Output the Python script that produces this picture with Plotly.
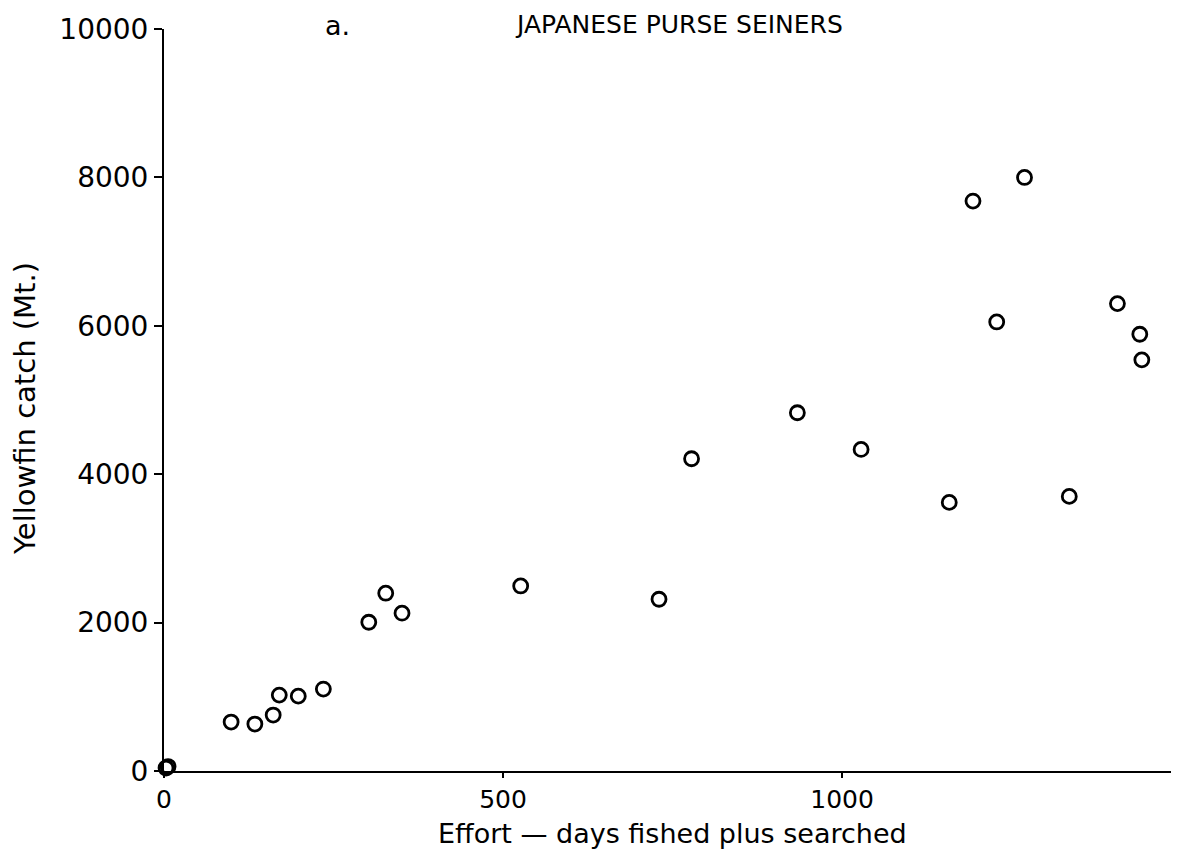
import plotly.graph_objects as go

effort = [3, 6, 99, 134, 161, 170, 198, 235, 302, 327, 351, 526, 730, 778,
          934, 1028, 1158, 1193, 1228, 1269, 1335, 1406, 1439, 1442]
catch = [40, 60, 660, 633, 754, 1023, 1009, 1104, 2005, 2396, 2127, 2494, 2315, 4208,
         4828, 4334, 3620, 7681, 6052, 7999, 3701, 6299, 5886, 5541]

x_ticks = [0, 500, 1000]
y_ticks = [0, 2000, 4000, 6000, 8000, 10000]

FONT = "DejaVu Sans"

# plot area: figure px x 156..1163, y 21..763 (page offset 8px by body margin)
fig = go.Figure()
fig.add_trace(go.Scatter(
    x=effort, y=catch, mode="markers",
    marker=dict(symbol="circle-open", size=14, color="black", line=dict(width=2.8)),
    cliponaxis=False, showlegend=False,
))

fig.update_layout(
    width=1163, height=844,
    margin=dict(l=156, r=0, t=21, b=81),
    paper_bgcolor="white", plot_bgcolor="white",
    font=dict(family=FONT, color="black", size=28),
    xaxis=dict(range=[0, 1485], tickvals=x_ticks, ticktext=[str(v) for v in x_ticks],
               showgrid=False, zeroline=False, showline=True, linecolor="black", linewidth=2,
               ticks="outside", ticklen=5, tickwidth=2, tickcolor="black",
               tickfont=dict(size=25, family=FONT)),
    yaxis=dict(range=[0, 10000], tickvals=y_ticks, ticktext=[str(v) for v in y_ticks],
               showgrid=False, zeroline=False, showline=True, linecolor="black", linewidth=2,
               ticks="outside", ticklen=8, tickwidth=2, tickcolor="black",
               tickfont=dict(size=28, family=FONT)),
    annotations=[
        dict(text="a.", xref="paper", yref="paper", x=(337 - 164) / 1007, y=763 / 742,
             showarrow=False, xanchor="center", yanchor="top", font=dict(size=27)),
        dict(text="JAPANESE PURSE SEINERS", xref="paper", yref="paper",
             x=(679 - 164) / 1007, y=763 / 742,
             showarrow=False, xanchor="center", yanchor="top", font=dict(size=25)),
        dict(text="Effort \u2014 days fished plus searched", xref="paper", yref="paper",
             x=(672 - 164) / 1007, y=-(833 - 771) / 742,
             showarrow=False, xanchor="center", yanchor="middle", font=dict(size=27)),
        dict(text="Yellowfin catch (Mt.)", xref="paper", yref="paper",
             x=(25 - 164) / 1007, y=(771 - 409) / 742, textangle=-90,
             showarrow=False, xanchor="center", yanchor="middle", font=dict(size=29)),
    ],
)

fig.write_html("out.html")
